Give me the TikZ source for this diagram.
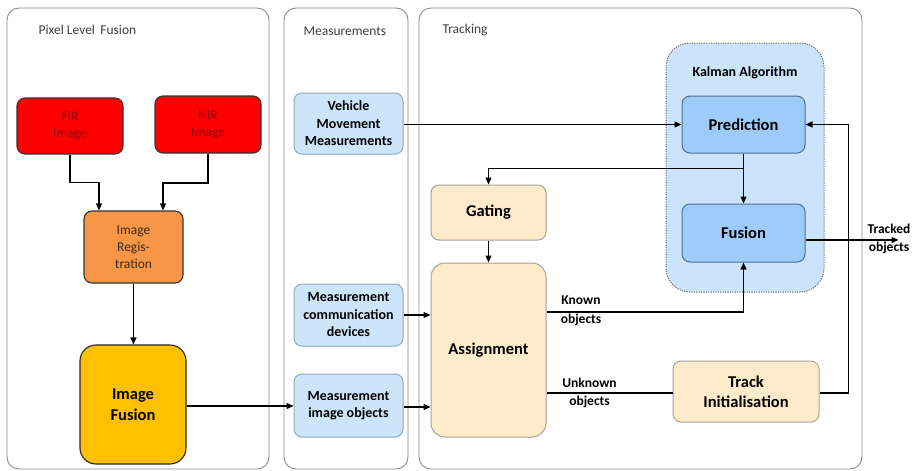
\documentclass[tikz,border=0pt]{standalone}
\usepackage{fontspec}
\setmainfont{Carlito}
\usetikzlibrary{arrows.meta}
\definecolor{panelgray}{HTML}{8A8A8A}
\definecolor{redfill}{HTML}{FF0000}
\definecolor{redtext}{HTML}{8B0000}
\definecolor{orgfill}{HTML}{F79646}
\definecolor{orgtext}{HTML}{3B2A1A}
\definecolor{yelfill}{HTML}{FFC000}
\definecolor{lbfill}{HTML}{CDE5FB}
\definecolor{lbdraw}{HTML}{8FA9C0}
\definecolor{pfill}{HTML}{FDEBC9}
\definecolor{pdraw}{HTML}{A8A29A}
\definecolor{kfill}{HTML}{CCE4FB}
\definecolor{kdraw}{HTML}{6E6E6E}
\definecolor{bfill}{HTML}{9DCBFA}
\definecolor{bdraw}{HTML}{4F6E8F}
\definecolor{titletext}{HTML}{404040}
\tikzset{
  panel/.style={draw=panelgray, line width=0.9pt, rounded corners=12pt, fill=white},
  ptitle/.style={text=titletext, font=\fontsize{13.5}{16}\selectfont, anchor=west},
  box/.style={rounded corners=8pt, minimum width=#1, inner sep=0pt, align=center},
  redbox/.style={box=106pt, fill=redfill, draw=black!80, line width=1.1pt, text=redtext, font=\fontsize{13.5}{17}\selectfont},
  orgbox/.style={box=99pt, fill=orgfill, draw=black!80, line width=1.1pt, text=orgtext, font=\fontsize{13.5}{17}\selectfont},
  yelbox/.style={box=106pt, rounded corners=16pt, fill=yelfill, draw=black!85, line width=1.1pt, font=\bfseries\fontsize{16.5}{21}\selectfont},
  lbbox/.style={box=109pt, fill=lbfill, draw=lbdraw, line width=1pt, font=\bfseries\fontsize{14}{17.5}\selectfont},
  pbox/.style={box=#1, fill=pfill, draw=pdraw, line width=1pt, font=\bfseries\fontsize{16.5}{20}\selectfont},
  bbox/.style={box=123pt, fill=bfill, draw=bdraw, line width=1pt, font=\bfseries\fontsize{16.5}{20}\selectfont},
  arr/.style={-{Triangle[length=7pt,width=6pt]}, line width=1.2pt, black},
  ln/.style={line width=1.2pt, black},
  lbl/.style={font=\bfseries\fontsize{13.5}{18.5}\selectfont, align=center, inner sep=0pt}
}
\begin{document}
\begin{tikzpicture}[x=1pt,y=-1pt]
\useasboundingbox (0,0) rectangle (919,471);
% panels
\draw[panel] (7,8) rectangle (269,469);
\draw[panel] (284,8) rectangle (408,469);
\draw[panel] (419,8) rectangle (862,469);
\node[ptitle] (t1) at (35,30) {Pixel Level\, Fusion};
\node[ptitle] (t2) at (300,31) {Measurements};
\node[ptitle] (t3) at (439,30) {Tracking};
% Kalman container
\draw[fill=kfill, draw=kdraw, line width=1pt, dash pattern=on 1.2pt off 1.2pt, rounded corners=24pt] (666,43) rectangle (824,292);
\node[font=\bfseries\fontsize{14}{17}\selectfont] (kal) at (745,73) {Kalman Algorithm};
% pixel level fusion
\node[redbox, minimum height=56pt] (fir) at (70,126) {FIR\\Image};
\node[redbox, minimum height=57pt] (nir) at (208,124.5) {NIR\\Image};
\node[orgbox, minimum height=72pt] (reg) at (133.5,247) {Image\\Regis-\\tration};
\node[yelbox, minimum height=119pt] (imf) at (133,404.5) {Image\\Fusion};
% measurements
\node[lbbox, minimum height=61pt] (veh) at (348.5,123.5) {Vehicle\\Movement\\Measurements};
\node[lbbox, minimum height=62pt] (com) at (348.5,315) {Measurement\\communication\\devices};
\node[lbbox, minimum height=63pt] (obj) at (348.5,405.5) {Measurement\\image objects};
% tracking
\node[pbox=115pt, minimum height=55pt] (gat) at (488.5,212.5) {Gating};
\node[pbox=115pt, minimum height=174pt, rounded corners=14pt] (asg) at (488.5,350) {Assignment};
\node[bbox, minimum height=57pt] (pre) at (743.5,124.5) {Prediction};
\node[bbox, minimum height=58pt] (fus) at (743.5,233) {Fusion};
\node[pbox=146pt, minimum height=61pt] (trk) at (746,391.5) {Track\\Initialisation};
% connectors
\draw[arr] (fir.south) -- ++(0,28) -| ([xshift=-34.5pt]reg.north);
\draw[arr] (nir.south) -- ++(0,29.5) -| ([xshift=29.5pt]reg.north);
\draw[arr] (reg.south) -- (reg.south |- imf.north);
\draw[arr] ([yshift=-1.5pt]imf.east) -- ([yshift=-1.5pt]imf.east -| obj.west);
\draw[arr] ([yshift=-1pt]veh.east) -- ([yshift=-1pt]veh.east -| pre.west);
\draw[arr] (com.east) -- (com.east -| asg.west);
\draw[arr] ([yshift=-1.5pt]obj.east) -- ([yshift=-1.5pt]obj.east -| asg.west);
\draw[arr] (pre.south) -- (fus.north);
\coordinate (br) at ([yshift=-15pt]pre.south);
\draw[arr] (br) -| (gat.north);
\draw[arr] (gat.south) -- (asg.north);
\draw[arr] ([yshift=38pt]asg.east) -| (fus.south);
\node[lbl] (known) at (581,311) {Known\\objects};
\draw[ln] ([yshift=-43pt]asg.east) -- ([yshift=-43pt]asg.east -| trk.west);
\node[lbl] (unknown) at (589.5,393) {Unknown\\objects};
\coordinate (rt) at ([xshift=29pt,yshift=-1.5pt]trk.east);
\draw[arr] ([yshift=-1.5pt]trk.east) -- (rt) |- (pre.east);
\coordinate (outp) at ([xshift=93pt,yshift=-7pt]fus.east);
\draw[arr] ([yshift=-7pt]fus.east) -- (outp);
\node[lbl] (tracked) at (889,239) {Tracked\\objects};
\end{tikzpicture}
\end{document}
